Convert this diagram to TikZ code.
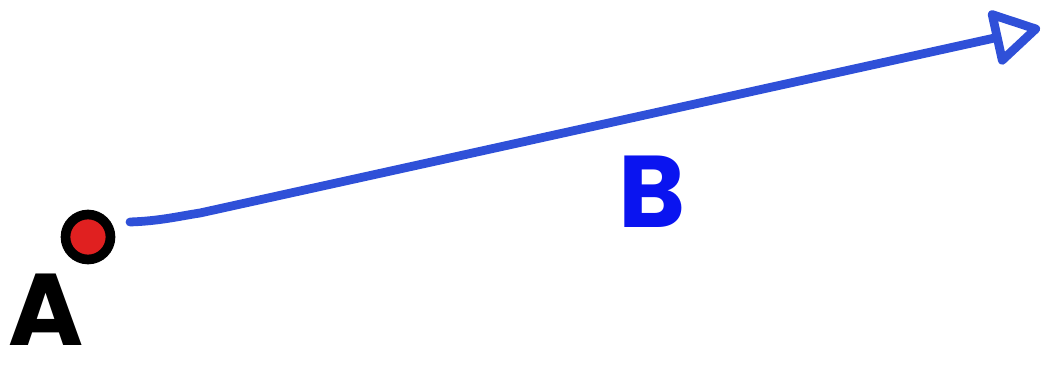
\documentclass[tikz,border=0pt]{standalone}
\usepackage{fontspec}
\setmainfont{Poppins}
\usetikzlibrary{arrows.meta, positioning}
\definecolor{vecblue}{HTML}{2F50D8}
\definecolor{labelblue}{HTML}{0A14F0}
\definecolor{dotred}{HTML}{E02020}

\begin{document}
\begin{tikzpicture}[x=0.02cm, y=-0.02cm,
  dot/.style={circle, draw=black, line width=5.5pt, fill=dotred, minimum size=0.9cm, inner sep=0pt},
  vec/.style={-{Triangle[open, length=30pt, width=34pt, round]}, line width=5pt, draw=vecblue, line cap=round},
  lbl/.style={font=\fontsize{58}{58}\selectfont\bfseries, inner sep=0pt},
]
  \useasboundingbox (0,0) rectangle (1047,371);

  \node[dot] (ptA) at (88,237) {};
  \coordinate (tail) at (130,222);
  \coordinate (bend) at (200,213);
  \coordinate (head) at (1040,28);

  \draw[vec] (tail) .. controls (160,221) and (180,216) .. (bend) -- (head);

  \node[lbl] (labA) at (46,310) {A};
  \node[lbl, text=labelblue] (labB) at (652,192) {B};
\end{tikzpicture}
\end{document}
